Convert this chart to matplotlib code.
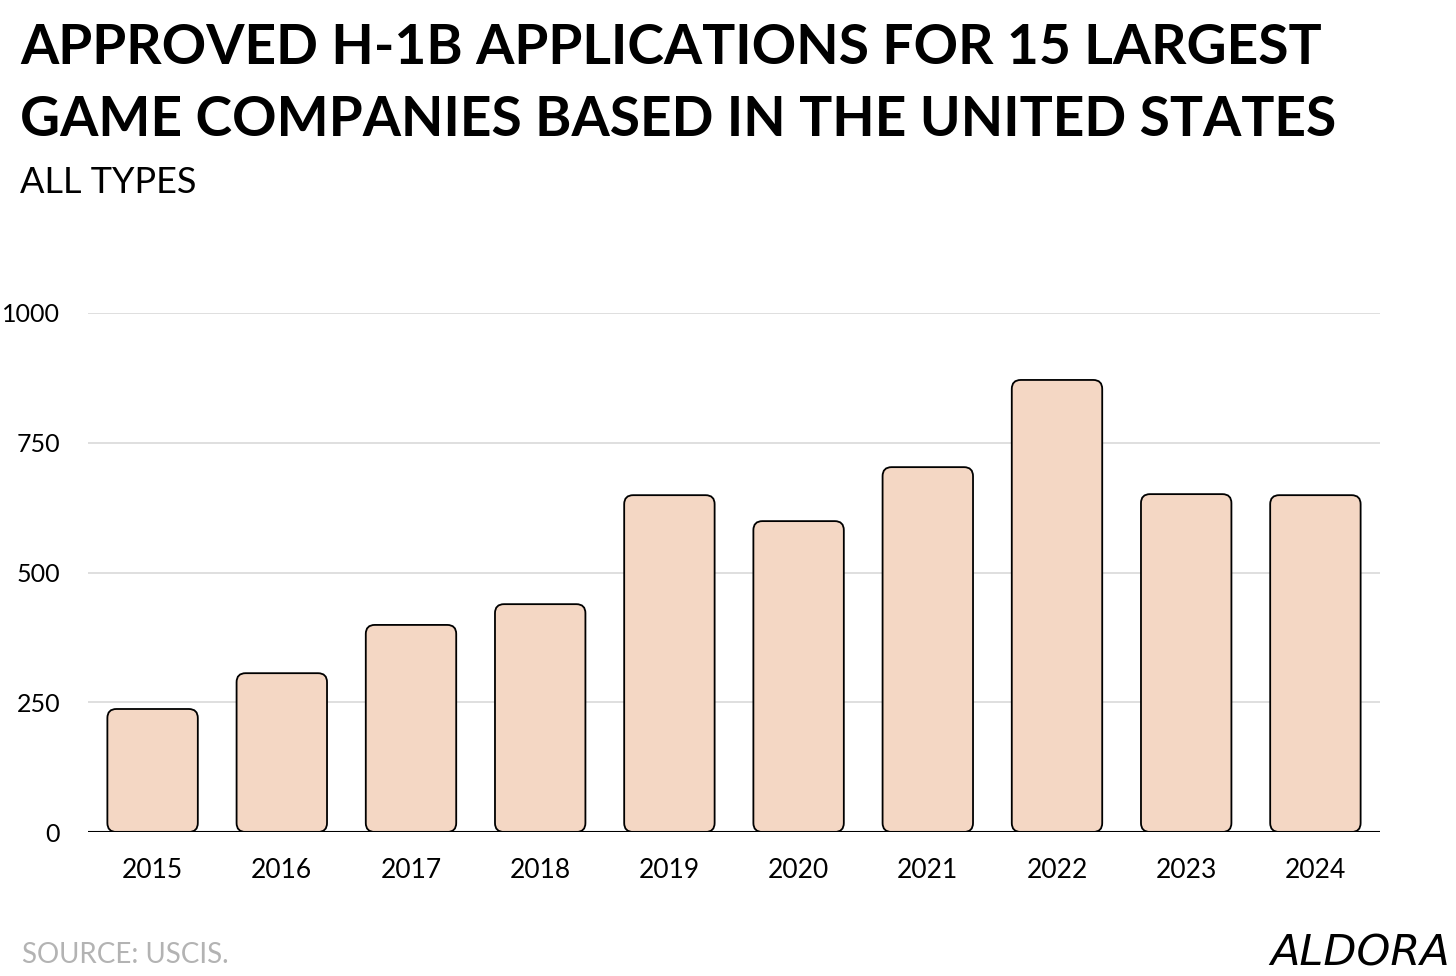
import matplotlib
matplotlib.use("Agg")
import matplotlib.pyplot as plt
from matplotlib.patches import FancyBboxPatch

# approved H-1B applications
years = ["2015", "2016", "2017", "2018", "2019", "2020", "2021", "2022", "2023", "2024"]
approved = [237, 306, 399, 439, 649, 599, 703, 871, 651, 649]
yticks = [0, 250, 500, 750, 1000]

BAR = "#f4d7c4"
W, H = 14.56, 9.76

fig = plt.figure(figsize=(W, H), dpi=100)
ax = fig.add_axes([88 / 1456, 144 / 976, (1380 - 88) / 1456, (663 - 144) / 976])

ax.set_xlim(-0.5, len(years) - 0.5)
ax.set_ylim(0, 1000)

# rounded bars: work out how many y units equal one x unit on screen
px_per_x = (1380 - 88) / len(years)
px_per_y = (663 - 144) / 1000
aspect = px_per_x / px_per_y
radius_px = 9
for i, v in enumerate(approved):
    bw = 0.70
    box = FancyBboxPatch((i - bw / 2, 0), bw, v,
                         boxstyle=f"round,pad=0,rounding_size={radius_px / px_per_x}",
                         mutation_aspect=aspect,
                         facecolor=BAR, edgecolor="black", lw=1.3, zorder=3)
    ax.add_patch(box)

for t in yticks[1:]:
    ax.axhline(t, color="#d6d6d6", lw=1.1, zorder=1)
ax.axhline(0, color="black", lw=1.5, zorder=4)

for s in ax.spines.values():
    s.set_visible(False)
ax.set_xticks(range(len(years)))
ax.set_xticklabels(years, fontsize=19, fontfamily="Lato")
ax.set_yticks(yticks)
ax.set_yticklabels([str(t) for t in yticks], fontsize=18, fontfamily="Lato")
ax.tick_params(length=0)
ax.tick_params(axis="x", pad=19)
ax.tick_params(axis="y", pad=20)

fig.text(20 / 1456, 1 - 64 / 976, "APPROVED H-1B APPLICATIONS FOR 15 LARGEST",
         fontsize=39.7, fontweight="bold", fontfamily="Lato", va="baseline", ha="left")
fig.text(20 / 1456, 1 - 136 / 976, "GAME COMPANIES BASED IN THE UNITED STATES",
         fontsize=39.7, fontweight="bold", fontfamily="Lato", va="baseline", ha="left")
fig.text(20 / 1456, 1 - 193 / 976, "ALL TYPES",
         fontsize=26, fontfamily="Lato", va="baseline", ha="left")

fig.text(22 / 1456, 1 - 963 / 976, "SOURCE: USCIS.", color="#b3b3b3",
         fontsize=20, fontfamily="Lato", va="baseline", ha="left")
fig.text(1450 / 1456, 1 - 966 / 976, "ALDORA", color="black",
         fontsize=31, fontfamily="DejaVu Sans", fontstyle="italic",
         va="baseline", ha="right")

fig.savefig("out.png", dpi=100)
